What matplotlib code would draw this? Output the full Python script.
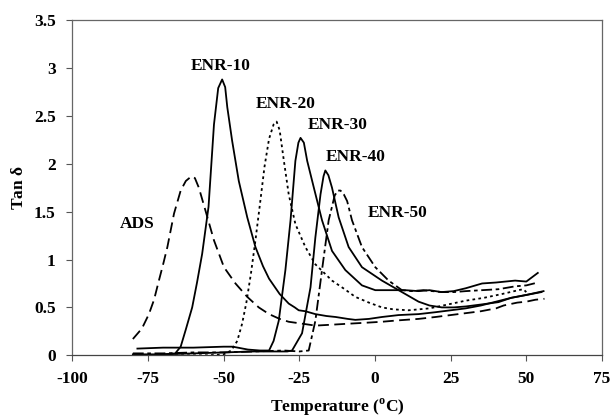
import matplotlib
matplotlib.use("Agg")
import matplotlib.pyplot as plt

# ---- data ----
ads_T = [-80, -77, -74.7, -73, -71.4, -70, -68.6, -66.4, -64.2, -62.5, -60.6, -59.5, -58.2, -56, -53.2, -49.9, -46.1,
         -42.2, -38.4, -35, -31.5, -28.5, -24, -19.7, -14, -8.7, -3, 2.2, 7.8, 14.4, 20, 25, 30, 35, 40, 42.5, 47, 50, 53, 56]
ads_y = [0.17, 0.28, 0.43, 0.58, 0.78, 0.95, 1.13, 1.48, 1.72, 1.82, 1.87, 1.85, 1.75, 1.51, 1.20, 0.92, 0.75,
         0.61, 0.50, 0.43, 0.38, 0.35, 0.33, 0.31, 0.32, 0.33, 0.34, 0.35, 0.365, 0.38, 0.40, 0.42, 0.44, 0.46, 0.49,
         0.52, 0.55, 0.56, 0.58, 0.59]

enr10_T = [-80, -75, -70, -66, -64.2, -62.5, -60.4, -58.8, -57.1, -55, -53.2, -51.8, -50.5, -49.5, -48.8, -47.2, -45,
           -42.2, -39.5, -37, -35, -31.5, -28.5, -26.5, -25.2, -23, -19.7, -16, -13, -9, -6.5, -2, 2.3, 7.8, 14.4,
           20, 25, 30, 35, 40, 45, 50, 55]
enr10_y = [0.0, 0.0, 0.01, 0.02, 0.09, 0.27, 0.50, 0.76, 1.06, 1.55, 2.41, 2.79, 2.88, 2.80, 2.59, 2.24, 1.82,
           1.44, 1.13, 0.93, 0.80, 0.64, 0.54, 0.50, 0.47, 0.46, 0.43, 0.41, 0.40, 0.38, 0.37, 0.38, 0.40, 0.42, 0.43,
           0.45, 0.47, 0.49, 0.52, 0.56, 0.60, 0.63, 0.66]

enr20_T = [-66, -60, -55, -50, -47.5, -45.5, -43.9, -42.5, -41, -39.5, -38, -36.5, -35, -33.5, -32.5,
           -31.5, -30.1, -28.5, -26.3, -23, -19.7, -14.2, -10, -6.5, -2, 2.3, 6, 11.1, 18, 24, 29.9, 36, 42, 47.4, 49, 50]
enr20_y = [0.0, 0.0, 0.0, 0.01, 0.05, 0.15, 0.33, 0.55, 0.85, 1.20, 1.58, 1.97, 2.26, 2.41, 2.44,
           2.35, 2.03, 1.68, 1.37, 1.13, 0.95, 0.78, 0.69, 0.61, 0.55, 0.50, 0.48, 0.47, 0.49, 0.53, 0.57, 0.60, 0.64,
           0.68, 0.69, 0.66]

enr30_T = [-78.5, -70, -60, -50, -47, -42, -38, -35, -33.5, -31.8, -29.6, -27.9, -26.3, -25.3, -24.6, -23.5, -22.4,
           -20.2, -17.5, -14.2, -9.8, -4.3, 0.1, 5, 10, 14.4, 18, 22, 26, 30, 35.4, 40, 46.3, 50, 53.8]
enr30_y = [0.07, 0.08, 0.08, 0.09, 0.09, 0.06, 0.05, 0.05, 0.15, 0.36, 0.89, 1.41, 2.03, 2.22, 2.27, 2.22, 2.03,
           1.75, 1.41, 1.09, 0.89, 0.73, 0.68, 0.68, 0.68, 0.67, 0.68, 0.66, 0.67, 0.70, 0.75, 0.76, 0.78, 0.77, 0.86]

enr40_T = [-80, -70, -60, -50, -40, -32, -29, -27.4, -24.1, -21.3, -19.7, -18, -17, -16.4, -15.4, -14.2, -12, -8.7,
           -4.3, 2.3, 7.8, 14.4, 18, 22.1, 26, 30, 35, 40.8, 45, 50, 55.7]
enr40_y = [0.01, 0.01, 0.02, 0.03, 0.04, 0.04, 0.04, 0.05, 0.23, 0.71, 1.23, 1.68, 1.87, 1.93, 1.88, 1.75, 1.44, 1.13,
           0.92, 0.78, 0.68, 0.56, 0.52, 0.50, 0.50, 0.51, 0.53, 0.555, 0.60, 0.63, 0.67]

enr50_T = [-80, -70, -60, -50, -40, -30, -25, -21.9, -19.7, -17.5, -15.3, -13.3, -12.2, -11.4, -10.3, -9.2, -7.6,
           -4.3, 0.1, 4.5, 8.9, 12, 16, 22, 26, 30, 35.4, 40.8, 46.3, 50, 53.8]
enr50_y = [0.02, 0.02, 0.03, 0.03, 0.04, 0.05, 0.04, 0.05, 0.36, 0.89, 1.41, 1.67, 1.72, 1.72, 1.68, 1.61, 1.41,
           1.13, 0.92, 0.78, 0.68, 0.67, 0.68, 0.66, 0.66, 0.67, 0.68, 0.69, 0.72, 0.73, 0.76]

labels = ["ADS", "ENR-10", "ENR-20", "ENR-30", "ENR-40", "ENR-50"]
label_pos = [(-78.5, 1.37), (-51, 3.02), (-29.6, 2.62), (-12.5, 2.40), (-6.5, 2.07), (7.5, 1.49)]

x_ticks = [-100, -75, -50, -25, 0, 25, 50, 75]
y_ticks = [0, 0.5, 1, 1.5, 2, 2.5, 3, 3.5]
y_ticklabels = ["0", "0.5", "1", "1.5", "2", "2.5", "3", "3.5"]

# ---- plot ----
plt.rcParams['font.family'] = ['Liberation Serif', 'DejaVu Serif']
plt.rcParams['mathtext.fontset'] = 'custom'
plt.rcParams['mathtext.rm'] = 'Liberation Serif:bold'
plt.rcParams['mathtext.bf'] = 'Liberation Serif:bold'

fig = plt.figure(figsize=(6.13, 4.18), dpi=100)
ax = fig.add_axes([0.118, 0.150, 0.864, 0.802])

lw = 1.3
ax.plot(ads_T, ads_y, color='black', lw=lw, linestyle=(0, (6, 3)))
ax.plot(enr10_T, enr10_y, color='black', lw=lw)
ax.plot(enr20_T, enr20_y, color='black', lw=lw, linestyle=(0, (1.5, 1.8)))
ax.plot(enr30_T, enr30_y, color='black', lw=lw)
ax.plot(enr40_T, enr40_y, color='black', lw=lw)
ax.plot(enr50_T, enr50_y, color='black', lw=lw, linestyle=(0, (6, 2, 2, 2)))

for lab, (tx, ty) in zip(labels, label_pos):
    ax.text(tx, ty, lab, ha='center', va='center', fontsize=12.5, fontweight='bold')

ax.set_xlim(-100, 75)
ax.set_ylim(0, 3.5)
ax.set_xticks(x_ticks)
ax.set_xticklabels([str(v) for v in x_ticks])
ax.set_yticks(y_ticks)
ax.set_yticklabels(y_ticklabels)
ax.tick_params(direction='out', length=4, width=0.8, labelsize=12.5, colors='#555', labelcolor='black')
for t in ax.get_xticklabels() + ax.get_yticklabels():
    t.set_fontweight('bold')
ax.tick_params(axis='x', pad=7)
ax.tick_params(axis='y', pad=8)

for s in ['left', 'top', 'right']:
    ax.spines[s].set_color('#666')
    ax.spines[s].set_linewidth(0.9)
ax.spines['bottom'].set_color('#444')
ax.spines['bottom'].set_linewidth(0.9)

ax.set_xlabel(r'Temperature ($^{\rm o}$C)', fontsize=12.5, fontweight='bold', labelpad=7)
ax.set_ylabel(r'Tan $\mathrm{\delta}$', fontsize=12.5, fontweight='bold', labelpad=5)

fig.savefig('out.png', dpi=100)
